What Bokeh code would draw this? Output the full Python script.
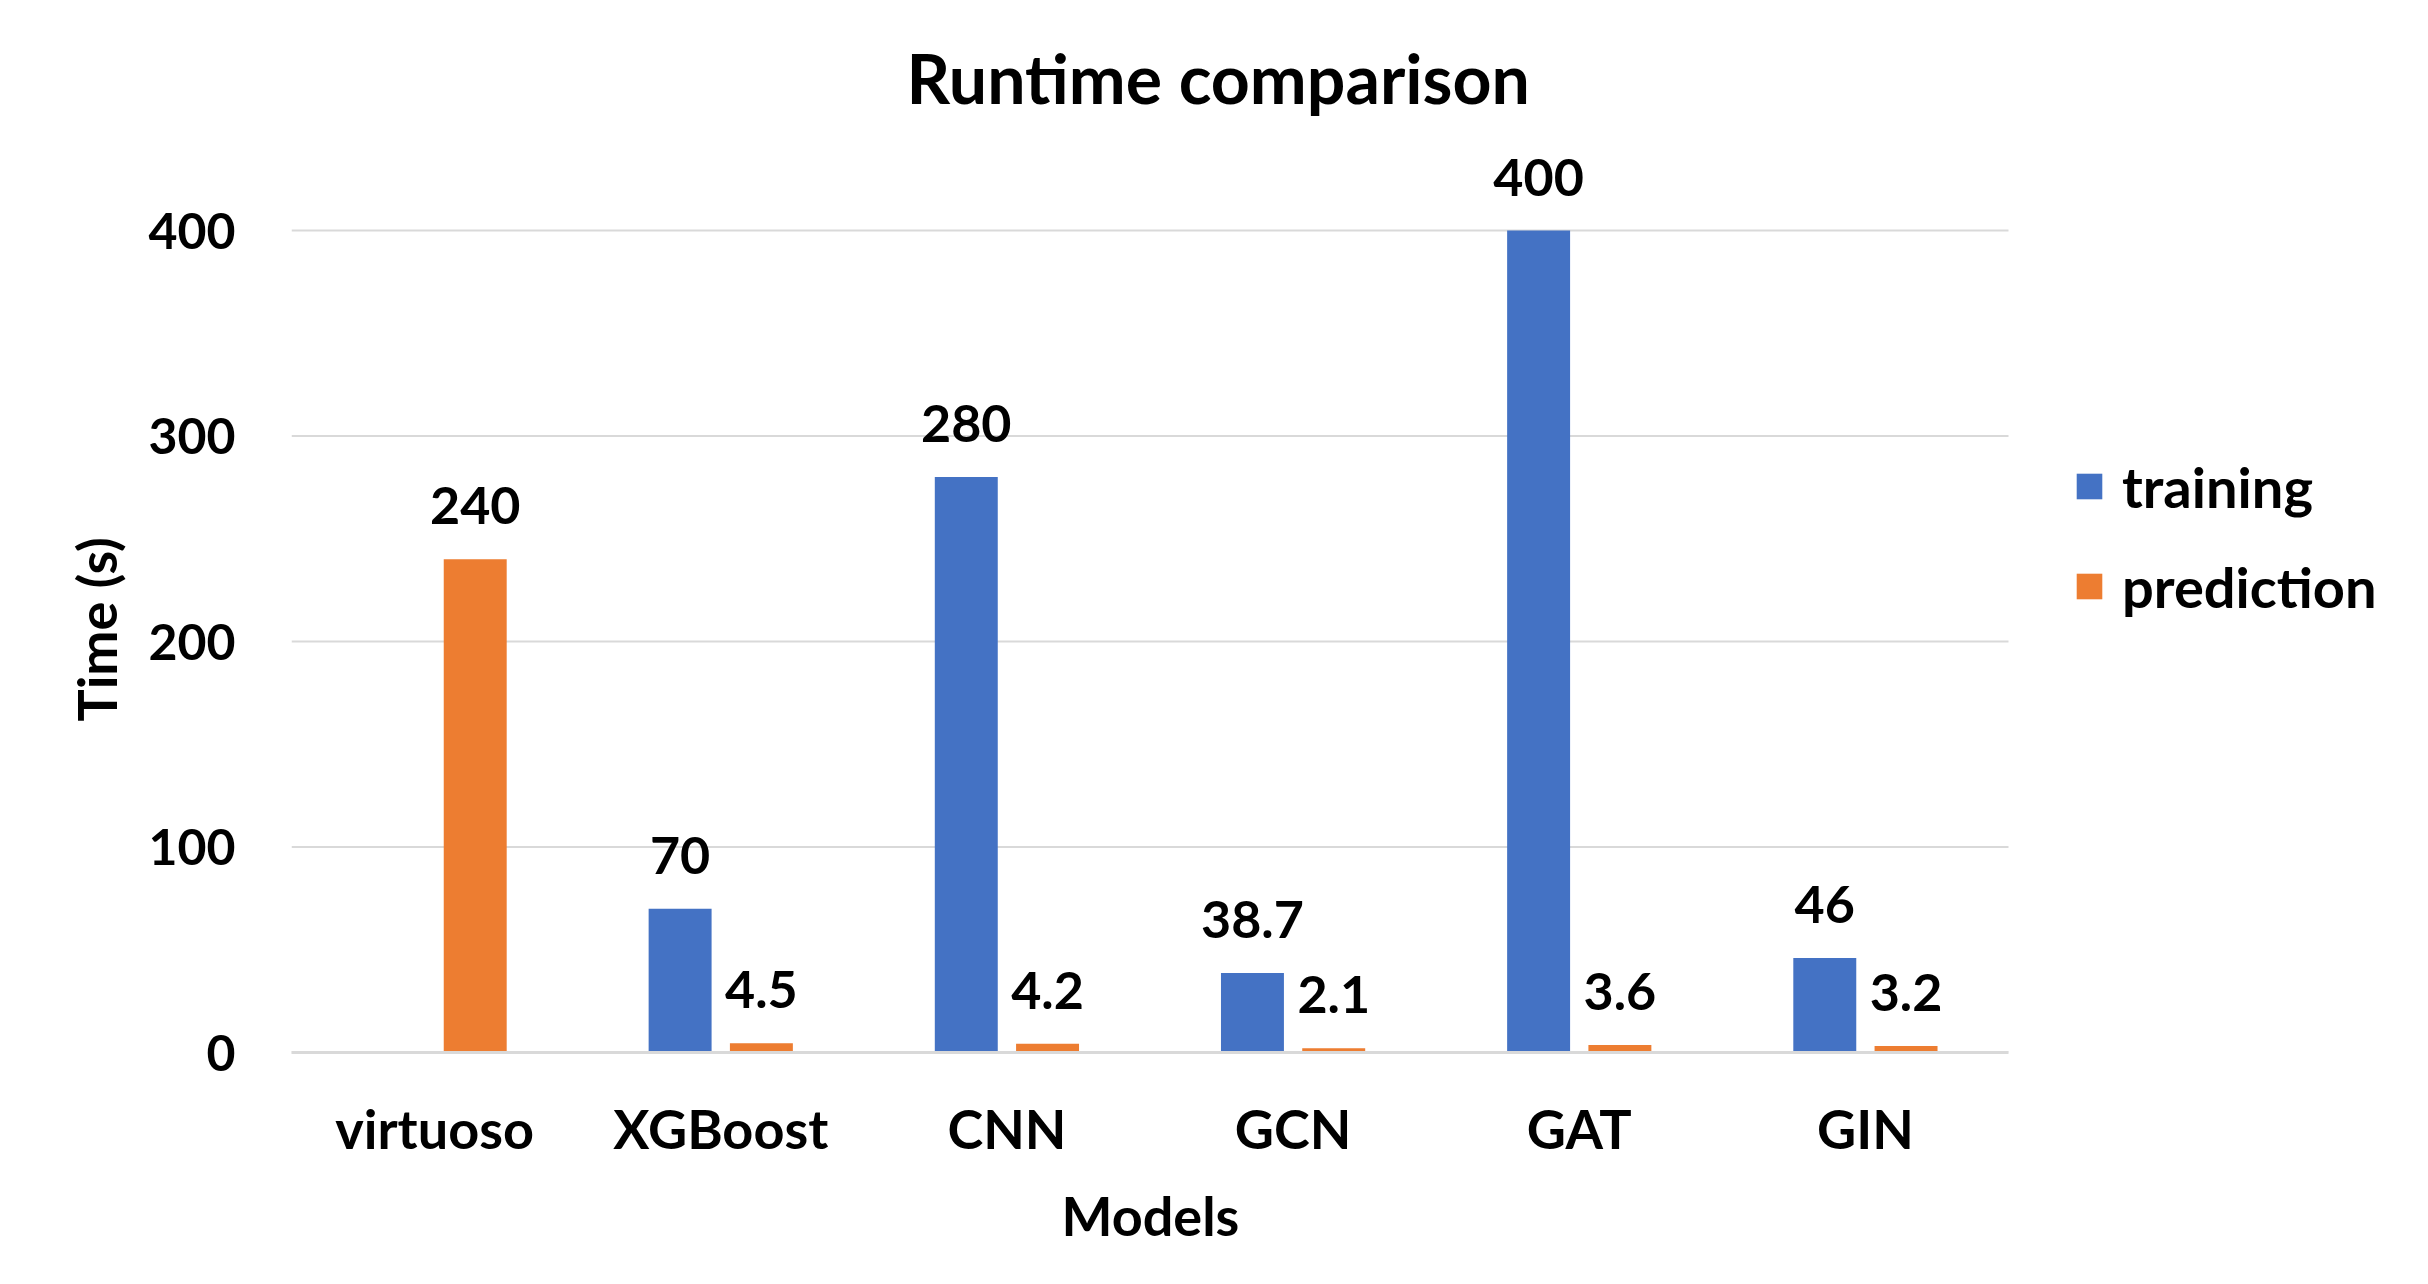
from bokeh.plotting import figure
from bokeh.models import (ColumnDataSource, Range1d, FixedTicker, LabelSet,
                          Legend, LegendItem, Title)
from bokeh.core.properties import value
from bokeh.embed import file_html
from bokeh.resources import INLINE

# ---- data ----
models = ["virtuoso", "XGBoost", "CNN", "GCN", "GAT", "GIN"]
training = [None, 70, 280, 38.7, 400, 46]
prediction = [240, 4.5, 4.2, 2.1, 3.6, 3.2]
training_labels = ["", "70", "280", "38.7", "400", "46"]
prediction_labels = ["240", "4.5", "4.2", "2.1", "3.6", "3.2"]
y_ticks = [0, 100, 200, 300, 400]

BLUE = "#4472C4"
ORANGE = "#ED7D31"
GRID = "#d9d9d9"
FONT = "Lato"

W, H = 2412, 1268
left, cat_right, frame_right = 291, 2008, 2392
top, bottom = 140, 1052
px_per_unit = (1052 - 230) / 400.0
y_end = (bottom - top) / px_per_unit
n = len(models)
px_per_cat = (cat_right - left) / n
x_end = (frame_right - left) / px_per_cat

centers = [i + 0.5 for i in range(n)]
tr_idx = [i for i, v in enumerate(training) if v is not None]

OFF = 0.142
BW = 0.22
src_t = ColumnDataSource(dict(x=[centers[i] - OFF for i in tr_idx],
                              y=[training[i] for i in tr_idx],
                              label=[training_labels[i] for i in tr_idx]))
src_p = ColumnDataSource(dict(x=[c + OFF for c in centers], y=prediction,
                              label=prediction_labels))
src_g = ColumnDataSource(dict(x0=[0] * len(y_ticks), x1=[n] * len(y_ticks),
                              y=y_ticks))

p = figure(x_range=Range1d(0, x_end), y_range=Range1d(0, y_end), width=W, height=H,
           output_backend="svg", toolbar_location=None,
           min_border_left=left, min_border_right=W - frame_right,
           min_border_top=top, min_border_bottom=H - bottom)
p.outline_line_color = None
p.background_fill_color = "white"
p.border_fill_color = "white"
p.xgrid.grid_line_color = None
p.ygrid.grid_line_color = None

# horizontal gridlines (only over the category area)
p.segment(x0="x0", x1="x1", y0="y", y1="y", source=src_g,
          line_color=GRID, line_width=2)

rt = p.vbar(x="x", top="y", width=BW, source=src_t, fill_color=BLUE, line_color=None)
rp = p.vbar(x="x", top="y", width=BW, source=src_p, fill_color=ORANGE, line_color=None)

lab_kw = dict(text_font=value(FONT), text_font_style="bold", text_font_size="52px",
              text_color="black", text_align="center", text_baseline="alphabetic",
              y_offset=35)
p.add_layout(LabelSet(x="x", y="y", text="label", source=src_t, **lab_kw))
p.add_layout(LabelSet(x="x", y="y", text="label", source=src_p, **lab_kw))

# title
p.title.text = "Runtime comparison"
p.title.align = "left"
p.title.offset = 615
p.title.text_font = FONT
p.title.text_font_style = "bold"
p.title.text_font_size = "68px"
p.title.text_color = "black"
p.title.standoff = 46

# y axis
p.yaxis.ticker = FixedTicker(ticks=y_ticks)
p.yaxis.axis_line_color = None
p.yaxis.major_tick_line_color = None
p.yaxis.minor_tick_line_color = None
p.yaxis.major_label_standoff = 50
p.yaxis.major_label_text_font = FONT
p.yaxis.major_label_text_font_style = "bold"
p.yaxis.major_label_text_font_size = "50px"
p.yaxis.major_label_text_color = "black"

ytitle = Title(text="Time (s)", align="left", offset=331, standoff=34,
               text_font=FONT, text_font_style="bold", text_font_size="54px",
               text_color="black")
p.add_layout(ytitle, "left")

# x axis (categories)
p.xaxis.ticker = FixedTicker(ticks=centers)
p.xaxis.major_label_overrides = {c: m for c, m in zip(centers, models)}
p.xaxis.bounds = (0, n)
p.xaxis.axis_line_color = GRID
p.xaxis.axis_line_width = 3
p.xaxis.major_tick_line_color = None
p.xaxis.minor_tick_line_color = None
p.xaxis.major_label_standoff = 37
p.xaxis.major_label_text_font = FONT
p.xaxis.major_label_text_font_style = "bold"
p.xaxis.major_label_text_font_size = "54px"
p.xaxis.major_label_text_color = "black"

xtitle = Title(text="Models", align="left", offset=770, standoff=34,
               text_font=FONT, text_font_style="bold", text_font_size="54px",
               text_color="black")
p.add_layout(xtitle, "below")

legend = Legend(items=[LegendItem(label="training", renderers=[rt]),
                       LegendItem(label="prediction", renderers=[rp])],
                location=(2073 - left, 432), orientation="vertical",
                glyph_width=32, glyph_height=32, label_standoff=17,
                label_height=68, spacing=32, padding=0, margin=0,
                border_line_color=None, background_fill_alpha=0,
                label_text_font=FONT, label_text_font_style="bold",
                label_text_font_size="56px", label_text_color="black")
p.add_layout(legend, "center")

open("out.html", "w").write(file_html(p, INLINE))
